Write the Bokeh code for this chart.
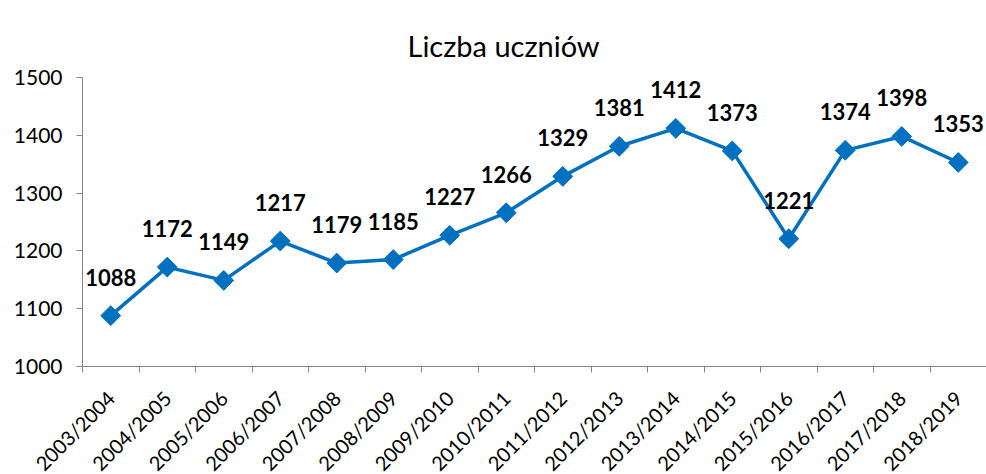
import math
from bokeh.plotting import figure
from bokeh.models import Range1d, FixedTicker, ColumnDataSource
from bokeh.core.properties import value
from bokeh.embed import file_html
from bokeh.resources import INLINE

years = ["2003/2004", "2004/2005", "2005/2006", "2006/2007", "2007/2008", "2008/2009",
         "2009/2010", "2010/2011", "2011/2012", "2012/2013", "2013/2014", "2014/2015",
         "2015/2016", "2016/2017", "2017/2018", "2018/2019"]
students = [1088, 1172, 1149, 1217, 1179, 1185, 1227, 1266, 1329, 1381, 1412, 1373,
            1221, 1374, 1398, 1353]
y_ticks = [1000, 1100, 1200, 1300, 1400, 1500]
title_text = "Liczba uczniów"

FONT = "Lato"
BLUE = "#0070C0"
AX = "#868686"

idx = list(range(len(years)))
src = ColumnDataSource(dict(x=idx, y=students, t=[str(v) for v in students]))

p = figure(frame_width=904, frame_height=289, output_backend="svg", toolbar_location=None,
           x_range=Range1d(-0.5, 15.5), y_range=Range1d(1000, 1500),
           min_border_left=82, min_border_right=0, min_border_top=77, min_border_bottom=108)
p.outline_line_color = None
p.grid.visible = False

p.title.text = title_text
p.title.align = "left"
p.title.offset = 325
p.title.vertical_align = "top"
p.title.standoff = 26
p.title.text_font = FONT
p.title.text_font_style = "normal"
p.title.text_font_size = "29px"
p.title.text_color = "#000000"

p.line("x", "y", source=src, line_color=BLUE, line_width=3.5)
p.scatter("x", "y", source=src, marker="square", angle=math.pi / 4, size=14,
          fill_color=BLUE, line_color=BLUE)

p.text("x", "y", text="t", source=src, y_offset=-30,
       text_align="center", text_baseline="bottom",
       text_font=value(FONT), text_font_style="bold", text_font_size="22px",
       text_color="#000000")

p.yaxis.ticker = FixedTicker(ticks=y_ticks)
p.yaxis.axis_line_color = AX
p.yaxis.major_tick_line_color = AX
p.yaxis.major_tick_out = 6
p.yaxis.major_tick_in = 0
p.yaxis.minor_tick_line_color = None
p.yaxis.major_label_text_font = FONT
p.yaxis.major_label_text_font_size = "21px"
p.yaxis.major_label_text_color = "#000000"
p.yaxis.major_label_standoff = 14

p.xaxis.ticker = FixedTicker(ticks=idx, minor_ticks=[i - 0.5 for i in range(len(years) + 1)])
p.xaxis.major_label_overrides = {i: y for i, y in enumerate(years)}
p.xaxis.axis_line_color = AX
p.xaxis.major_tick_line_color = None
p.xaxis.minor_tick_line_color = AX
p.xaxis.minor_tick_out = 6
p.xaxis.minor_tick_in = 0
p.xaxis.major_label_orientation = math.pi / 4
p.xaxis.major_label_text_font = FONT
p.xaxis.major_label_text_font_size = "20px"
p.xaxis.major_label_text_color = "#000000"
p.xaxis.major_label_standoff = 22

open("out.html", "w").write(file_html(p, INLINE))
